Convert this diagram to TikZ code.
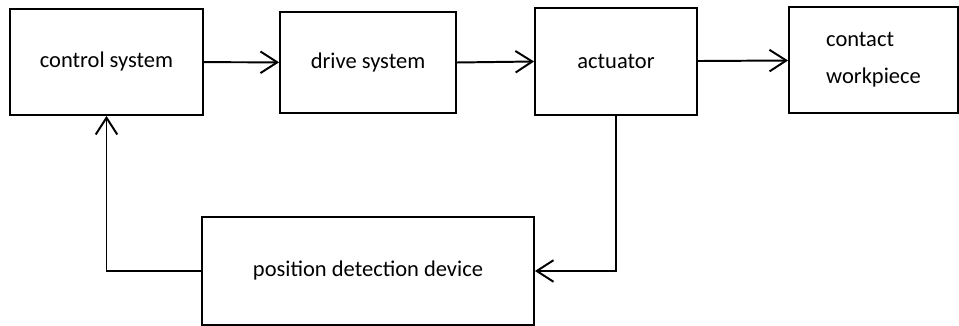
\documentclass[tikz,border=0pt]{standalone}
\usepackage{fontspec}
\setmainfont{Carlito}
\usepackage{tikz}
\usetikzlibrary{arrows.meta}

\begin{document}
\begin{tikzpicture}[
    block/.style={draw,line width=1.3pt,rectangle,inner sep=0pt,
        font=\fontsize{16}{26.3}\selectfont,align=left},
    link/.style={line width=1.4pt,-{Straight Barb[length=4.2mm,width=5.4mm,line width=1.4pt]}}]
    \useasboundingbox (0,0) rectangle (23.975,-8.15);
    \node[block,minimum width=4.825cm,minimum height=2.65cm] (ctrl) at (2.6625,-1.55) {control system};
    \node[block,minimum width=4.4cm,minimum height=2.525cm] (drive) at (9.2,-1.5625) {drive system};
    \node[block,minimum width=4.05cm,minimum height=2.675cm] (act) at (15.4,-1.5375) {actuator};
    \node[block,minimum width=4.225cm,minimum height=2.65cm] (work) at (21.8375,-1.5) {contact\\workpiece};
    \node[block,minimum width=8.3cm,minimum height=2.7cm] (pos) at (9.2,-6.775) {position detection device};
    \draw[link] (ctrl) to (drive);
    \draw[link] (drive.east) to (act.west);
    \draw[link] (act) to (work);
    \draw[link] (act.south) |- (pos.east);
    \draw[link] (pos.west) -| (ctrl.south);
\end{tikzpicture}
\end{document}
